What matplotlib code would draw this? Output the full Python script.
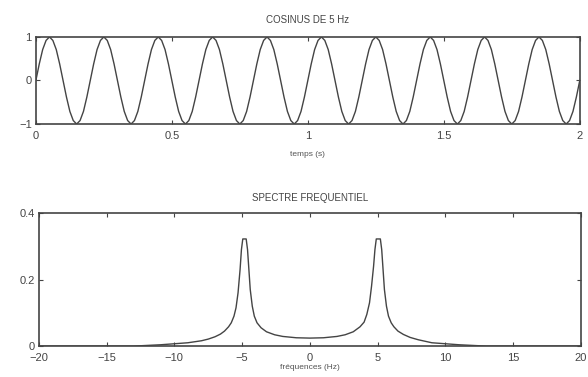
import matplotlib
matplotlib.use("Agg")
import matplotlib.pyplot as plt

plt.rcParams['font.family'] = ['Liberation Sans', 'DejaVu Sans']

# signal (pas de 0.0125 s)
temps = [k * 0.0125 for k in range(161)]
signal = [
    0, 0.38, 0.71, 0.92, 1, 0.92, 0.71, 0.38, 0, -0.38, -0.71, -0.92, -1, -0.92, -0.71, -0.38,
    0, 0.38, 0.71, 0.92, 1, 0.92, 0.71, 0.38, 0, -0.38, -0.71, -0.92, -1, -0.92, -0.71, -0.38,
    0, 0.38, 0.71, 0.92, 1, 0.92, 0.71, 0.38, 0, -0.38, -0.71, -0.92, -1, -0.92, -0.71, -0.38,
    0, 0.38, 0.71, 0.92, 1, 0.92, 0.71, 0.38, 0, -0.38, -0.71, -0.92, -1, -0.92, -0.71, -0.38,
    0, 0.38, 0.71, 0.92, 1, 0.92, 0.71, 0.38, 0, -0.38, -0.71, -0.92, -1, -0.92, -0.71, -0.38,
    0, 0.38, 0.71, 0.92, 1, 0.92, 0.71, 0.38, 0, -0.38, -0.71, -0.92, -1, -0.92, -0.71, -0.38,
    0, 0.38, 0.71, 0.92, 1, 0.92, 0.71, 0.38, 0, -0.38, -0.71, -0.92, -1, -0.92, -0.71, -0.38,
    0, 0.38, 0.71, 0.92, 1, 0.92, 0.71, 0.38, 0, -0.38, -0.71, -0.92, -1, -0.92, -0.71, -0.38,
    0, 0.38, 0.71, 0.92, 1, 0.92, 0.71, 0.38, 0, -0.38, -0.71, -0.92, -1, -0.92, -0.71, -0.38,
    0, 0.38, 0.71, 0.92, 1, 0.92, 0.71, 0.38, 0, -0.38, -0.71, -0.92, -1, -0.92, -0.71, -0.38,
    0,
]

# spectre
frequences = [-20, -13, -12, -11, -10, -9, -8, -7.5, -7, -6.6, -6.3, -6.0, -5.8, -5.6,
              -5.45, -5.3, -5.15, -5.05, -4.95, -4.7, -4.6, -4.5, -4.4, -4.25, -4.1,
              -3.9, -3.6, -3.2, -2.6, -2, -1, 0, 1, 2, 2.6, 3.2, 3.7, 4.0, 4.2, 4.4,
              4.55, 4.7, 4.8, 4.9, 5.2, 5.3, 5.4, 5.5, 5.65, 5.8, 6.0, 6.2, 6.5, 6.9,
              7.4, 8, 9, 10, 11, 12, 13, 20]
spectre = [0, 0, 0.002, 0.004, 0.007, 0.01, 0.016, 0.021, 0.028, 0.036, 0.045, 0.058, 0.07, 0.09,
           0.115, 0.16, 0.23, 0.29, 0.322, 0.322, 0.29, 0.23, 0.17, 0.12, 0.09,
           0.07, 0.055, 0.043, 0.034, 0.029, 0.025, 0.024, 0.025, 0.029, 0.034, 0.043, 0.058, 0.072, 0.095, 0.13,
           0.18, 0.24, 0.29, 0.322, 0.322, 0.29, 0.23, 0.17, 0.12, 0.09, 0.07, 0.058, 0.045, 0.035,
           0.026, 0.019, 0.01, 0.007, 0.004, 0.002, 0, 0]

xt_haut = [0, 0.5, 1, 1.5, 2]
yt_haut = [-1, 0, 1]
xt_bas = [-20, -15, -10, -5, 0, 5, 10, 15, 20]
yt_bas = [0, 0.2, 0.4]

fig = plt.figure(figsize=(5.88, 3.77), dpi=100)
ax1 = fig.add_axes([0.061, 0.671, 0.925, 0.231])
ax2 = fig.add_axes([0.066, 0.082, 0.922, 0.353])

ax1.plot(temps, signal, color='#444444', lw=1.0)
ax1.set_xlim(0, 2)
ax1.set_ylim(-1, 1)
ax1.set_xticks(xt_haut)
ax1.set_xticklabels(['0', '0.5', '1', '1.5', '2'])
ax1.set_yticks(yt_haut)
ax1.set_yticklabels(['\u22121', '0', '1'])
ax1.set_title('COSINUS DE 5 Hz', fontsize=7, color='#444444', pad=10)
ax1.set_xlabel('temps (s)', fontsize=6, color='#555555', labelpad=7)

ax2.plot(frequences, spectre, color='#444444', lw=1.0)
ax2.set_xlim(-20, 20)
ax2.set_ylim(0, 0.4)
ax2.set_xticks(xt_bas)
ax2.set_xticklabels(['\u221220', '\u221215', '\u221210', '\u22125', '0', '5', '10', '15', '20'])
ax2.set_yticks(yt_bas)
ax2.set_yticklabels(['0', '0.2', '0.4'])
ax2.set_title('SPECTRE FREQUENTIEL', fontsize=7, color='#444444', pad=9)
ax2.set_xlabel('fréquences (Hz)', fontsize=6, color='#555555', labelpad=1)

for ax in (ax1, ax2):
    ax.tick_params(direction='in', top=True, right=True, length=3, width=0.8,
                   labelsize=8, colors='#444444')
    ax.tick_params(axis='x', pad=5)
    ax.tick_params(axis='y', pad=3)
    for s in ax.spines.values():
        s.set_color('#444444')
        s.set_linewidth(1.2)

fig.savefig('out.png', dpi=100)
